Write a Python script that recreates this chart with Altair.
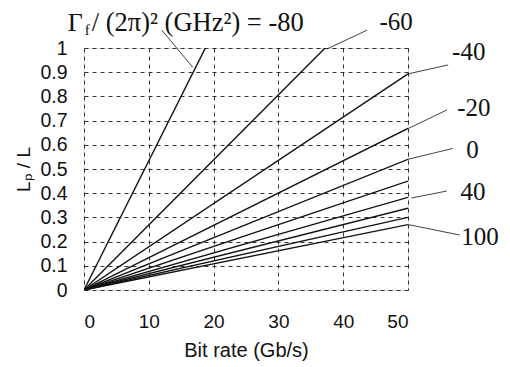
import altair as alt
import pandas as pd

# Series: Gamma_f/(2pi)^2 values and L_p/L reached at 50 Gb/s (lines from origin)
gammas = [-80, -60, -40, -20, 0, 20, 40, 60, 80, 100]
end_x = [50] * 10
end_y = [2.67, 1.344, 0.893, 0.668, 0.540, 0.450, 0.383, 0.338, 0.300, 0.270]

# Annotation labels (text, anchor in data coords) and leader lines
lab_text = ["-60", "-40", "-20", "0", "40", "100"]
lab_x = [45.6, 56.8, 57.6, 59.0, 58.1, 58.2]
lab_y = [1.108, 0.983, 0.752, 0.578, 0.405, 0.219]

lead_x1 = [12.0, 43.7, 56.2, 56.0, 56.9, 56.0, 58.0]
lead_y1 = [1.074, 1.074, 0.93, 0.744, 0.585, 0.409, 0.227]
lead_x2 = [16.8, 37.5, 50.0, 50.1, 50.0, 50.5, 50.1]
lead_y2 = [0.92, 0.996, 0.893, 0.668, 0.540, 0.38, 0.27]

rows = []
for g, ex, ey in zip(gammas, end_x, end_y):
    rows.append({"g": g, "x": 0, "y": 0})
    rows.append({"g": g, "x": ex, "y": ey})
lines_df = pd.DataFrame(rows)

labels_df = pd.DataFrame({"t": lab_text, "x": lab_x, "y": lab_y})
leads_df = pd.DataFrame({"x": lead_x1, "y": lead_y1, "x2": lead_x2, "y2": lead_y2})

title_gamma_df = pd.DataFrame({"t": ["Γ"], "x": [-2.5], "y": [1.104]})
title_rest_df = pd.DataFrame({"t": ["/ (2π)² (GHz²) = -80"], "x": [1.2], "y": [1.104]})
title_sub_df = pd.DataFrame({"t": ["f"], "x": [0.1], "y": [1.073]})

xs = alt.Scale(domain=[0, 50], nice=False)
ys = alt.Scale(domain=[0, 1], nice=False)

xaxis = alt.Axis(values=[0, 10, 20, 30, 40, 50], title="Bit rate (Gb/s)",
                 grid=True, gridDash=[4, 4], gridColor="#000", gridWidth=0.8,
                 ticks=False, domain=False, labelPadding=22, labelFontSize=19,
                 labelFont="Liberation Sans", labelColor="#111", labelOverlap=False,
                 titleFont="Liberation Sans", titleFontSize=20, titleFontWeight="normal",
                 titleColor="#111", titlePadding=9)
yaxis = alt.Axis(values=[0, 0.1, 0.2, 0.3, 0.4, 0.5, 0.6, 0.7, 0.8, 0.9, 1.0],
                 format=".1~f", title="Lₚ / L",
                 grid=True, gridDash=[4, 4], gridColor="#000", gridWidth=0.8,
                 ticks=False, domain=False, labelPadding=17, labelFontSize=19.5,
                 labelFont="Liberation Sans", labelColor="#111", labelOverlap=False,
                 titleFont="Liberation Sans", titleFontSize=19, titleFontWeight="normal",
                 titleColor="#111", titlePadding=6)

X = alt.X("x:Q", scale=xs, axis=xaxis)
Y = alt.Y("y:Q", scale=ys, axis=yaxis)

lines = alt.Chart(lines_df).mark_line(color="#111", strokeWidth=1.4, clip=True).encode(
    x=X, y=Y, detail="g:N",
)

leads = alt.Chart(leads_df).mark_rule(color="#111", strokeWidth=0.8).encode(
    x=X, y=Y, x2="x2:Q", y2="y2:Q"
)

labels = alt.Chart(labels_df).mark_text(
    align="left", baseline="middle", font="Liberation Serif", fontSize=25, color="#111"
).encode(x=X, y=Y, text="t:N")

title_gamma = alt.Chart(title_gamma_df).mark_text(
    align="left", baseline="middle", font="Liberation Serif", fontSize=26, color="#111"
).encode(x=X, y=Y, text="t:N")
title_rest = alt.Chart(title_rest_df).mark_text(
    align="left", baseline="middle", font="Liberation Serif", fontSize=26.5, color="#111"
).encode(x=X, y=Y, text="t:N")
title_sub = alt.Chart(title_sub_df).mark_text(
    align="left", baseline="middle", font="Liberation Serif", fontSize=15, color="#111"
).encode(x=X, y=Y, text="t:N")

chart = alt.layer(lines, leads, labels, title_gamma, title_rest, title_sub).properties(
    width=324, height=242,
    autosize=alt.AutoSizeParams(type="none"),
    padding={"left": 76, "top": 40, "right": 94, "bottom": 76},
).configure_view(stroke="#111", strokeWidth=1.5).configure(background="white")

chart.save("out.html", embed_options={"renderer": "svg", "actions": False})
